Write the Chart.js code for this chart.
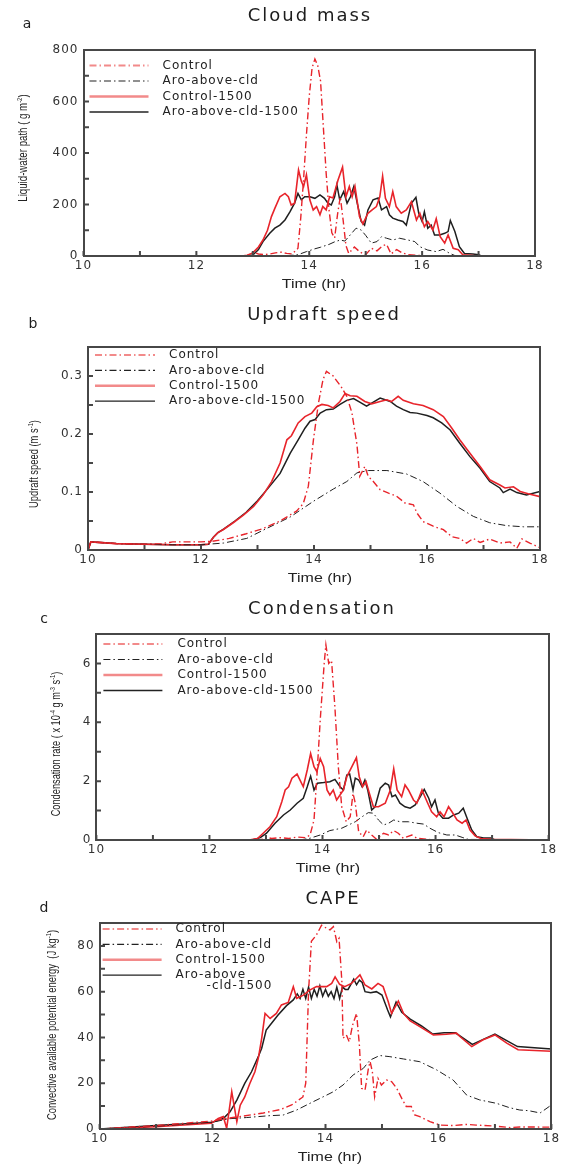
<!DOCTYPE html>
<html>
<head>
<meta charset="utf-8">
<script src="https://cdn.jsdelivr.net/npm/chart.js@4.4.1/dist/chart.umd.min.js"></script>
<style>
  html, body { margin: 0; padding: 0; background: #fff; }
  body { position: relative; width: 564px; height: 1173px; overflow: hidden; color: #222; }
  .panel { position: absolute; left: 0; width: 564px; }
  .panel canvas { position: absolute; left: 0; top: 0; }
  .txt { position: absolute; white-space: nowrap; display: inline-block; line-height: 1; transform: translate(-50%, -50%); }
  .ttl { font: 18px "DejaVu Sans", sans-serif; letter-spacing: 2px; color: #1d1d1d; }
  .tag { font: 14px "DejaVu Sans", sans-serif; color: #1d1d1d; }
  .axt { font: 13px "Liberation Sans Narrow", "Liberation Sans", Arial, sans-serif; color: #222; }
  .axt sup { font-size: 8px; vertical-align: 5px; line-height: 0; }
</style>
</head>
<body>
<div class="panel" style="top:0;height:290px"><canvas id="cLwp" width="564" height="290"></canvas></div>
<div class="panel" style="top:290px;height:295px"><canvas id="cUpd" width="564" height="295"></canvas></div>
<div class="panel" style="top:585px;height:295px"><canvas id="cCnd" width="564" height="295"></canvas></div>
<div class="panel" style="top:880px;height:293px"><canvas id="cCape" width="564" height="293"></canvas></div>

<div class="txt tag" style="left:27px;top:23px">a</div>
<div class="txt ttl" style="left:310px;top:14px">Cloud mass</div>
<div class="txt axt" data-w="107" data-r="-90" style="left:22px;top:148px">Liquid-water path ( g m<sup>-2</sup>)</div>
<div class="txt axt" data-w="64" style="left:314px;top:283px">Time (hr)</div>

<div class="txt tag" style="left:33px;top:323px">b</div>
<div class="txt ttl" style="left:324px;top:313px">Updraft speed</div>
<div class="txt axt" data-w="88" data-r="-90" style="left:33px;top:464px">Updraft speed (m s<sup>-1</sup>)</div>
<div class="txt axt" data-w="64" style="left:320px;top:577px">Time (hr)</div>

<div class="txt tag" style="left:44px;top:618px">c</div>
<div class="txt ttl" style="left:322px;top:607px">Condensation</div>
<div class="txt axt" data-w="145" data-r="-90" style="left:55px;top:744px">Condensation rate ( x 10<sup>-4</sup> g m<sup>-3</sup> s<sup>-1</sup>)</div>
<div class="txt axt" data-w="64" style="left:328px;top:867px">Time (hr)</div>

<div class="txt tag" style="left:44px;top:907px">d</div>
<div class="txt ttl" style="left:333px;top:897px">CAPE</div>
<div class="txt axt" data-w="190" data-r="-90" style="left:51px;top:1025px">Convective available potential energy&nbsp; (J kg<sup>-1</sup>)</div>
<div class="txt axt" data-w="64" style="left:330px;top:1156px">Time (hr)</div>

<script>
'use strict';

// ---------- data (time in hr) ----------
const seriesNames = ['Control', 'Aro-above-cld', 'Control-1500', 'Aro-above-cld-1500'];

// a: liquid-water path (g m-2)
const lwpCtlT = [10, 12.9, 13.0, 13.1, 13.2, 13.3, 13.4, 13.5, 13.6, 13.7,
  13.8, 13.85, 13.9, 13.95, 14.0, 14.05, 14.1, 14.15, 14.2, 14.25,
  14.3, 14.35, 14.4, 14.45, 14.5, 14.55, 14.6, 14.65, 14.7, 14.8,
  14.9, 15.0, 15.1, 15.2, 15.3, 15.37, 15.45, 15.55, 15.65, 15.75,
  15.9, 16.1, 18];
const lwpCtl = [0, 0, 15, 8, 5, 8, 12, 15, 10, 8,
  30, 150, 300, 470, 620, 730, 765, 740, 680, 500,
  320, 180, 90, 70, 160, 230, 140, 40, 10, 35,
  15, 5, 30, 20, 40, 45, 8, 25, 12, 5,
  3, 0, 0];
const lwpAroT = [10, 13.5, 13.7, 13.8, 13.95, 14.1, 14.2, 14.35, 14.45, 14.55,
  14.63, 14.7, 14.75, 14.83, 14.92, 15.0, 15.1, 15.2, 15.28, 15.37,
  15.48, 15.6, 15.75, 15.87, 15.96, 16.1, 16.25, 16.37, 16.49, 16.6,
  18];
const lwpAro = [0, 0, 3, 5, 17, 28, 34, 45, 55, 62,
  58, 75, 88, 108, 101, 80, 50, 56, 75, 69,
  62, 69, 62, 56, 36, 23, 17, 26, 10, 0,
  0];
const lwpCtl15T = [10, 12.8, 12.9, 13.0, 13.1, 13.18, 13.26, 13.33, 13.39, 13.48,
  13.57, 13.63, 13.68, 13.74, 13.81, 13.86, 13.9, 13.95, 14.01, 14.07,
  14.13, 14.19, 14.24, 14.3, 14.36, 14.42, 14.51, 14.59, 14.65, 14.71,
  14.76, 14.81, 14.89, 14.95, 15.04, 15.12, 15.19, 15.25, 15.3, 15.35,
  15.42, 15.48, 15.54, 15.63, 15.72, 15.81, 15.9, 15.96, 16.04, 16.1,
  16.19, 16.25, 16.32, 16.4, 16.46, 16.55, 16.64, 16.72, 16.85, 17.0,
  18];
const lwpCtl15 = [0, 0, 3, 12, 35, 62, 100, 153, 185, 230,
  243, 230, 198, 205, 334, 290, 270, 315, 218, 179,
  192, 160, 192, 179, 230, 225, 295, 345, 230, 270,
  230, 270, 153, 125, 166, 180, 192, 230, 310, 224,
  192, 250, 192, 166, 179, 211, 140, 166, 114, 134,
  101, 145, 75, 50, 82, 30, 24, 5, 3, 0,
  0];
const lwpAro15T = [10, 12.85, 13.0, 13.1, 13.18, 13.3, 13.39, 13.48, 13.57, 13.66,
  13.74, 13.8, 13.86, 13.92, 14.01, 14.1, 14.19, 14.27, 14.33, 14.39,
  14.45, 14.49, 14.54, 14.61, 14.67, 14.73, 14.79, 14.85, 14.92, 14.98,
  15.04, 15.13, 15.22, 15.28, 15.37, 15.42, 15.48, 15.57, 15.66, 15.72,
  15.81, 15.89, 15.94, 16.0, 16.04, 16.1, 16.16, 16.22, 16.31, 16.4,
  16.46, 16.5, 16.58, 16.66, 16.75, 16.9, 17.0, 17.05, 18];
const lwpAro15 = [0, 0, 4, 25, 56, 88, 108, 120, 140, 172,
  205, 243, 218, 230, 230, 224, 237, 224, 205, 198,
  230, 276, 218, 250, 205, 230, 270, 205, 134, 120,
  179, 218, 225, 179, 192, 160, 147, 140, 134, 120,
  205, 228, 166, 134, 172, 108, 120, 82, 82, 88,
  95, 138, 95, 36, 10, 8, 5, 0, 0];

// b: updraft speed (m s-1)
const updCtlT = [10, 10.05, 10.5, 11.0, 11.3, 11.5, 12.0, 12.2, 12.5, 12.8,
  13.1, 13.4, 13.69, 13.81, 13.9, 13.99, 14.08, 14.16, 14.22, 14.34,
  14.49, 14.58, 14.67, 14.76, 14.81, 14.9, 14.96, 15.05, 15.17, 15.32,
  15.46, 15.61, 15.76, 15.82, 15.93, 16.11, 16.29, 16.44, 16.58, 16.7,
  16.82, 16.94, 17.11, 17.29, 17.47, 17.59, 17.68, 17.82, 18];
const updCtl = [0, 0.014, 0.011, 0.01, 0.011, 0.014, 0.014, 0.015, 0.02, 0.028,
  0.037, 0.05, 0.067, 0.08, 0.11, 0.19, 0.254, 0.294, 0.308, 0.3,
  0.28, 0.265, 0.237, 0.182, 0.127, 0.144, 0.127, 0.118, 0.104, 0.098,
  0.093, 0.081, 0.078, 0.064, 0.049, 0.041, 0.035, 0.023, 0.02, 0.012,
  0.02, 0.013, 0.019, 0.012, 0.014, 0.003, 0.019, 0.012, 0.004];
const updAroT = [10, 10.05, 10.5, 11.0, 11.5, 12.0, 12.4, 12.81, 13.16, 13.58,
  13.99, 14.34, 14.58, 14.76, 14.96, 15.29, 15.64, 15.93, 16.23, 16.53,
  16.82, 17.11, 17.41, 17.71, 18];
const updAro = [0, 0.014, 0.011, 0.01, 0.009, 0.009, 0.012, 0.02, 0.037, 0.057,
  0.084, 0.105, 0.118, 0.133, 0.137, 0.137, 0.131, 0.118, 0.098, 0.075,
  0.058, 0.047, 0.042, 0.04, 0.04];
const updCtl15T = [10, 10.05, 10.5, 11.0, 11.5, 12.0, 12.13, 12.22, 12.3, 12.39,
  12.57, 12.75, 12.93, 13.1, 13.25, 13.4, 13.52, 13.6, 13.72, 13.84,
  13.96, 14.05, 14.14, 14.25, 14.34, 14.46, 14.55, 14.64, 14.76, 14.9,
  15.02, 15.17, 15.29, 15.37, 15.49, 15.58, 15.76, 15.93, 16.11, 16.29,
  16.44, 16.58, 16.76, 16.94, 17.11, 17.29, 17.38, 17.53, 17.65, 17.79,
  18];
const updCtl15 = [0, 0.014, 0.011, 0.01, 0.009, 0.009, 0.01, 0.022, 0.03, 0.035,
  0.047, 0.06, 0.075, 0.095, 0.118, 0.15, 0.19, 0.197, 0.219, 0.23,
  0.236, 0.247, 0.251, 0.249, 0.245, 0.256, 0.27, 0.266, 0.265, 0.256,
  0.252, 0.256, 0.259, 0.256, 0.265, 0.258, 0.252, 0.249, 0.242, 0.23,
  0.21, 0.19, 0.167, 0.144, 0.121, 0.112, 0.107, 0.109, 0.101, 0.097,
  0.092];
const updAro15T = [10, 10.05, 10.5, 11.0, 11.5, 12.0, 12.13, 12.22, 12.3, 12.4,
  12.6, 12.8, 13.0, 13.2, 13.4, 13.58, 13.72, 13.84, 13.93, 14.02,
  14.11, 14.22, 14.34, 14.46, 14.58, 14.7, 14.81, 14.93, 15.05, 15.17,
  15.26, 15.35, 15.46, 15.58, 15.7, 15.82, 16.0, 16.11, 16.26, 16.41,
  16.58, 16.76, 16.94, 17.11, 17.29, 17.35, 17.47, 17.59, 17.76, 18];
const updAro15 = [0, 0.014, 0.011, 0.01, 0.009, 0.009, 0.01, 0.022, 0.03, 0.036,
  0.05, 0.065, 0.085, 0.108, 0.132, 0.167, 0.19, 0.21, 0.222, 0.225,
  0.236, 0.242, 0.243, 0.251, 0.258, 0.261, 0.255, 0.248, 0.255, 0.262,
  0.259, 0.256, 0.248, 0.242, 0.237, 0.236, 0.232, 0.228, 0.219, 0.207,
  0.184, 0.161, 0.141, 0.118, 0.107, 0.099, 0.105, 0.099, 0.095, 0.101];

// c: condensation rate (x1e-4 g m-3 s-1)
const cndCtlT = [10, 12.9, 13.0, 13.1, 13.25, 13.4, 13.55, 13.7, 13.78, 13.85,
  13.9, 13.96, 14.03, 14.06, 14.11, 14.16, 14.22, 14.28, 14.34, 14.42,
  14.49, 14.54, 14.58, 14.64, 14.72, 14.78, 14.87, 14.96, 15.08, 15.17,
  15.26, 15.34, 15.43, 15.58, 15.67, 15.85, 16.0, 18];
const cndCtl = [0, 0, 0.1, 0.05, 0.08, 0.05, 0.1, 0.08, 0.17, 0.68,
  2.15, 4.08, 6.0, 6.63, 6.0, 6.1, 4.5, 2.49, 1.13, 0.62,
  0.79, 1.58, 1.25, 0.28, 0.11, 0.34, 0.17, 0.02, 0.23, 0.17,
  0.32, 0.23, 0.06, 0.17, 0.06, 0.02, 0, 0];
const cndAroT = [10, 13.6, 13.78, 13.96, 14.13, 14.34, 14.46, 14.58, 14.7, 14.81,
  14.9, 14.99, 15.08, 15.17, 15.26, 15.37, 15.52, 15.67, 15.79, 15.9,
  16.05, 16.2, 16.35, 16.47, 16.58, 18];
const cndAro = [0, 0, 0.06, 0.17, 0.32, 0.4, 0.51, 0.62, 0.79, 0.93,
  0.91, 0.68, 0.51, 0.57, 0.68, 0.62, 0.62, 0.57, 0.54, 0.4,
  0.25, 0.17, 0.17, 0.09, 0.02, 0];
const cndCtl15T = [10, 12.7, 12.85, 12.95, 13.07, 13.19, 13.28, 13.34, 13.4, 13.46,
  13.55, 13.6, 13.66, 13.73, 13.79, 13.85, 13.9, 13.96, 14.02, 14.08,
  14.13, 14.19, 14.25, 14.31, 14.37, 14.43, 14.52, 14.6, 14.65, 14.71,
  14.77, 14.83, 14.9, 14.99, 15.11, 15.2, 15.26, 15.32, 15.4, 15.46,
  15.52, 15.61, 15.67, 15.76, 15.85, 15.93, 16.02, 16.08, 16.15, 16.23,
  16.29, 16.38, 16.47, 16.54, 16.61, 16.7, 16.8, 17.0, 18];
const cndCtl15 = [0, 0, 0.05, 0.23, 0.45, 0.79, 1.3, 1.7, 1.81, 2.1,
  2.24, 2.04, 1.81, 2.38, 2.94, 2.49, 2.32, 2.77, 2.49, 1.7,
  1.53, 1.7, 1.36, 1.53, 1.7, 2.15, 2.49, 2.8, 2.15, 1.81,
  1.98, 1.58, 1.13, 1.13, 1.25, 1.7, 2.42, 1.7, 1.47, 1.87,
  1.7, 1.36, 1.25, 1.7, 1.3, 0.96, 0.79, 0.96, 0.79, 1.13,
  0.96, 0.68, 0.57, 0.68, 0.34, 0.14, 0.05, 0.02, 0];
const cndAro15T = [10, 12.75, 12.9, 13.01, 13.16, 13.31, 13.43, 13.55, 13.66, 13.73,
  13.79, 13.85, 13.91, 14.02, 14.13, 14.22, 14.31, 14.37, 14.43, 14.48,
  14.54, 14.58, 14.64, 14.7, 14.75, 14.8, 14.87, 14.93, 15.02, 15.11,
  15.17, 15.23, 15.29, 15.37, 15.46, 15.55, 15.64, 15.73, 15.8, 15.88,
  15.93, 15.99, 16.05, 16.13, 16.23, 16.32, 16.41, 16.49, 16.57, 16.64,
  16.73, 16.85, 16.98, 17.05, 18];
const cndAro15 = [0, 0, 0.08, 0.23, 0.57, 0.85, 1.02, 1.25, 1.42, 1.81,
  2.17, 1.7, 1.93, 1.95, 1.98, 2.06, 1.81, 1.7, 2.21, 2.24,
  1.7, 2.1, 2.04, 1.81, 2.04, 1.7, 1.02, 1.13, 1.76, 1.93,
  1.87, 1.47, 1.53, 1.25, 1.13, 1.08, 1.19, 1.47, 1.72, 1.42,
  1.13, 1.36, 0.91, 0.74, 0.74, 0.85, 0.91, 1.08, 0.68, 0.34,
  0.11, 0.07, 0.07, 0, 0];

// d: CAPE (J kg-1)
const capeCtlT = [10, 11.0, 12.0, 12.2, 12.5, 12.9, 13.2, 13.4, 13.6, 13.65,
  13.7, 13.75, 13.84, 13.93, 14.02, 14.08, 14.14, 14.2, 14.24, 14.29,
  14.31, 14.37, 14.42, 14.48, 14.55, 14.6, 14.64, 14.7, 14.76, 14.79,
  14.83, 14.87, 14.93, 14.99, 15.08, 15.17, 15.26, 15.35, 15.43, 15.52,
  15.58, 15.67, 15.85, 16.03, 16.26, 16.5, 16.67, 17.0, 17.27, 17.44,
  18];
const capeCtl = [0, 1.5, 3.5, 4.5, 5.5, 7, 8.5, 10.5, 14, 20,
  60, 82, 84.8, 89, 87.7, 87, 88.4, 81.8, 83.3, 64.4,
  39.6, 41.1, 38.1, 45.4, 50.5, 36.7, 17.8, 17, 26.5, 29.4,
  25, 14.1, 22.1, 19.2, 21.4, 20.7, 17.8, 13.4, 9.8, 9.8,
  6.1, 5.4, 3.2, 1.7, 1.5, 2, 1.7, 1.3, 0.6, 0.9,
  0.8];
const capeAroT = [10, 11.0, 12.0, 12.3, 12.6, 13.0, 13.25, 13.49, 13.78, 14.02,
  14.14, 14.31, 14.49, 14.67, 14.79, 14.96, 15.14, 15.38, 15.67, 15.97,
  16.26, 16.5, 16.73, 17.03, 17.26, 17.44, 17.6, 17.8, 18];
const capeAro = [0, 1.2, 3, 4.5, 5, 5.8, 6.1, 8.3, 11.9, 14.8,
  16.3, 19.2, 23.6, 26.5, 30.1, 32.1, 31.6, 30.6, 29.4, 25.8,
  21.4, 14.8, 12.7, 11.2, 9.3, 8.3, 8, 7, 10.5];
const capeCtl15T = [10, 11.0, 11.98, 12.1, 12.19, 12.25, 12.34, 12.43, 12.49, 12.57,
  12.66, 12.75, 12.81, 12.87, 12.93, 13.02, 13.13, 13.22, 13.34, 13.43,
  13.49, 13.61, 13.72, 13.84, 13.96, 14.02, 14.11, 14.17, 14.25, 14.34,
  14.46, 14.52, 14.61, 14.7, 14.82, 14.93, 15.02, 15.11, 15.17, 15.29,
  15.38, 15.5, 15.67, 15.91, 16.14, 16.32, 16.38, 16.59, 16.79, 17.0,
  17.21, 17.41, 18];
const capeCtl15 = [0, 1, 2.5, 4.6, 5.4, 0.3, 16.3, 3.2, 10.4, 14,
  19.9, 25, 30.9, 39.6, 50.5, 48.3, 50.5, 54.2, 55.3, 62.2,
  57.1, 58.5, 60.7, 62.2, 62.2, 62.2, 63.6, 66.5, 63.2, 62.2,
  63.6, 65.1, 67.3, 62.9, 61.2, 63.6, 62.2, 55.7, 50.5, 55.9,
  50.5, 47.2, 44.7, 41.1, 41.4, 41.9, 40.4, 36, 39, 41.1,
  37.5, 34.6, 34];
const capeAro15T = [10, 11.0, 12.0, 12.19, 12.31, 12.43, 12.57, 12.69, 12.81, 12.87,
  12.95, 13.02, 13.16, 13.31, 13.43, 13.5, 13.55, 13.6, 13.65, 13.7,
  13.75, 13.8, 13.85, 13.9, 13.95, 14.0, 14.05, 14.1, 14.15, 14.2,
  14.25, 14.3, 14.35, 14.4, 14.5, 14.55, 14.6, 14.65, 14.7, 14.8,
  14.9, 15.0, 15.1, 15.15, 15.25, 15.35, 15.5, 15.7, 15.9, 16.1,
  16.3, 16.6, 17.0, 17.4, 18];
const capeAro15 = [0, 1.5, 3, 4.6, 7.5, 12.6, 19.9, 25, 31.6, 35.3,
  43.2, 45.4, 49.8, 53.9, 56.4, 59, 57, 61, 57, 62,
  57, 61, 58, 62.5, 58, 61, 58, 60, 57, 62,
  57, 62, 61, 61, 65.5, 63, 65, 64, 60, 59.5,
  60, 58.5, 52, 49, 55.5, 51, 48, 45, 41.5, 42,
  42, 37, 41.5, 36, 35];

// ---------- styling ----------
const RED = '#e8242b';
const BLACK = '#1f1f1f';
const DASHDOT = [7, 3, 1.5, 3];
const lineStyles = [
  { color: RED, dash: DASHDOT, width: 1.4, legColor: '#f28a8a', legWidth: 2 },
  { color: BLACK, dash: DASHDOT, width: 1, legColor: '#222', legWidth: 1.2 },
  { color: RED, dash: [], width: 1.6, legColor: '#f28a8a', legWidth: 2.6 },
  { color: BLACK, dash: [], width: 1.5, legColor: '#222', legWidth: 1.3 }
];
const TICK_FONT = { family: '"DejaVu Sans", sans-serif', size: 12 };

// wide tick / legend lettering, like the original figure
const spacingPlugin = {
  id: 'spacing',
  beforeDraw(chart) { chart.ctx.letterSpacing = '1px'; }
};

// box round the plot, with tick marks pointing inwards
const framePlugin = {
  id: 'frame',
  afterDraw(chart) {
    const { ctx, chartArea: a, scales: { x, y } } = chart;
    const l = Math.round(a.left), r = Math.round(a.right);
    const t = Math.round(a.top), b = Math.round(a.bottom);
    ctx.save();
    ctx.setLineDash([]);
    ctx.strokeStyle = '#474747';
    ctx.lineWidth = 2;
    ctx.beginPath();
    x.ticks.forEach(tk => {
      const px = x.getPixelForValue(tk.value);
      ctx.moveTo(px, b);
      ctx.lineTo(px, b - 5);
    });
    y.ticks.forEach(tk => {
      const py = y.getPixelForValue(tk.value);
      ctx.moveTo(l, py);
      ctx.lineTo(l + 5, py);
    });
    ctx.rect(l, t, r - l, b - t);
    ctx.stroke();
    ctx.restore();
  }
};

// legend drawn inside the plot, top-left
const insideLegend = {
  id: 'insideLegend',
  afterDraw(chart, args, opts) {
    const { ctx, chartArea: a } = chart;
    ctx.save();
    ctx.letterSpacing = '1px';
    ctx.font = '12px "DejaVu Sans", sans-serif';
    ctx.textBaseline = 'middle';
    chart.data.datasets.forEach((ds, i) => {
      const yy = a.top + opts.dy + i * opts.row;
      ctx.strokeStyle = ds.legColor;
      ctx.lineWidth = ds.legWidth;
      ctx.setLineDash(ds.borderDash || []);
      ctx.beginPath();
      ctx.moveTo(a.left + opts.x0, yy);
      ctx.lineTo(a.left + opts.x1, yy);
      ctx.stroke();
      ctx.setLineDash([]);
      ctx.fillStyle = '#222';
      const parts = (opts.wrap && opts.wrap[i]) || [ds.label];
      parts.forEach((p, k) => {
        ctx.fillText(p, a.left + opts.tx + (k ? opts.indent : 0), yy + k * 11);
      });
    });
    ctx.restore();
  }
};

function pts(t, v) {
  return t.map((x, i) => ({ x, y: v[i] }));
}

function makePanel(canvasId, series, yCfg, box, legend) {
  const canvas = document.getElementById(canvasId);
  const H = canvas.height;
  return new Chart(canvas, {
    type: 'line',
    data: {
      datasets: series.map((s, i) => ({
        label: seriesNames[i],
        data: pts(s[0], s[1]),
        borderColor: lineStyles[i].color,
        borderWidth: lineStyles[i].width,
        borderDash: lineStyles[i].dash,
        legColor: lineStyles[i].legColor,
        legWidth: lineStyles[i].legWidth,
        pointRadius: 0,
        tension: 0,
        fill: false
      }))
    },
    options: {
      responsive: false,
      animation: false,
      events: [],
      layout: { padding: { left: 0, top: box.top, right: 564 - box.right, bottom: 0 } },
      plugins: {
        legend: { display: false },
        tooltip: { enabled: false },
        insideLegend: legend
      },
      scales: {
        x: {
          type: 'linear', min: 10, max: 18,
          grid: { display: false, drawTicks: false },
          border: { display: false },
          ticks: {
            stepSize: 1, autoSkip: false, maxRotation: 0, padding: 3,
            color: '#333', font: TICK_FONT,
            callback: v => (v % 2 === 0 ? String(v) : '')
          },
          afterFit: s => { s.height = H - box.bottom; }
        },
        y: {
          type: 'linear', min: 0, max: yCfg.max,
          grid: { display: false, drawTicks: false },
          border: { display: false },
          ticks: {
            stepSize: yCfg.step, autoSkip: false, padding: 5,
            color: '#333', font: TICK_FONT,
            callback: yCfg.label
          },
          afterFit: s => { s.width = box.left; }
        }
      }
    },
    plugins: [spacingPlugin, framePlugin, insideLegend]
  });
}

makePanel('cLwp',
  [[lwpCtlT, lwpCtl], [lwpAroT, lwpAro], [lwpCtl15T, lwpCtl15], [lwpAro15T, lwpAro15]],
  { max: 800, step: 100, label: v => (v % 200 === 0 ? String(v) : '') },
  { top: 50, bottom: 256, left: 83.5, right: 535 },
  { x0: 6, x1: 65, tx: 79, dy: 15.5, row: 15.5 });

makePanel('cUpd',
  [[updCtlT, updCtl], [updAroT, updAro], [updCtl15T, updCtl15], [updAro15T, updAro15]],
  { max: 0.35, step: 0.05, label: v => {
      const k = Math.round(v * 100);
      return k % 10 === 0 ? (k === 0 ? '0' : (k / 100).toFixed(1)) : '';
    } },
  { top: 57, bottom: 260, left: 88, right: 540 },
  { x0: 7, x1: 67, tx: 81, dy: 8, row: 15.4 });

makePanel('cCnd',
  [[cndCtlT, cndCtl], [cndAroT, cndAro], [cndCtl15T, cndCtl15], [cndAro15T, cndAro15]],
  { max: 7, step: 1, label: v => (v % 2 === 0 ? String(v) : '') },
  { top: 49, bottom: 255, left: 96.4, right: 548.6 },
  { x0: 7, x1: 66, tx: 81, dy: 10, row: 15.5 });

makePanel('cCape',
  [[capeCtlT, capeCtl], [capeAroT, capeAro], [capeCtl15T, capeCtl15], [capeAro15T, capeAro15]],
  { max: 90, step: 10, label: v => (v % 20 === 0 ? String(v) : '') },
  { top: 43, bottom: 249, left: 99.6, right: 551.4 },
  { x0: 3, x1: 62, tx: 76, dy: 6, row: 15.4, indent: 31, wrap: { 3: ['Aro-above', '-cld-1500'] } });

// squeeze the axis titles to the length they have in the figure
document.querySelectorAll('.axt[data-w]').forEach(el => {
  const k = Number(el.dataset.w) / el.offsetWidth;
  const r = Number(el.dataset.r || 0);
  el.style.transform = 'translate(-50%, -50%) rotate(' + r + 'deg) scaleX(' + k.toFixed(3) + ')';
});
</script>
</body>
</html>
